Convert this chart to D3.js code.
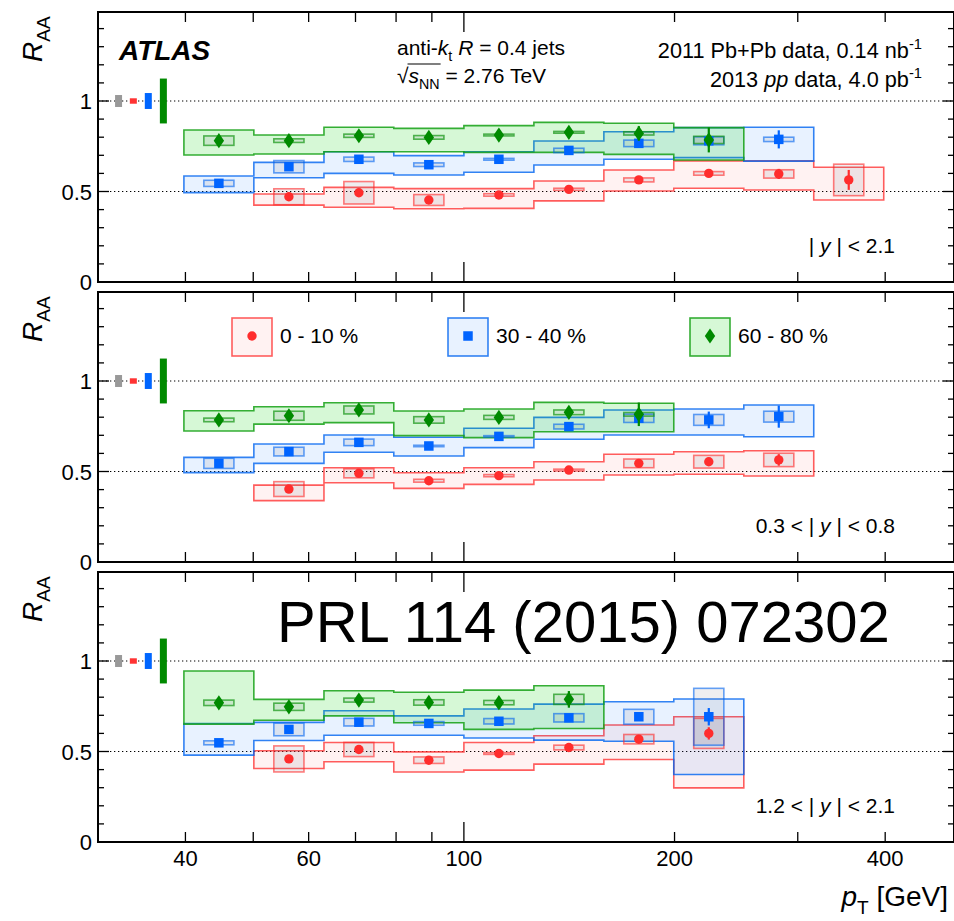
<!DOCTYPE html>
<html>
<head>
<meta charset="utf-8">
<script src="https://cdn.jsdelivr.net/npm/d3@7"></script>
<style>
  body { margin: 0; background: #fff; }
  svg { display: block; font-family: "Liberation Sans", Arial, Helvetica, sans-serif; }
</style>
</head>
<body>
<svg id="chart" width="954" height="921"></svg>
<script>
// ---- data ---------------------------------------------------------------
// jet pT bin edges [GeV]
const binEdges = [39.8, 50.1, 63.1, 79.4, 100, 125.9, 158.5, 199.5, 251.2, 316.2, 398.1];

const centralityLabels = ["0 - 10 %", "30 - 40 %", "60 - 80 %"];
const rapidityLabels = ["| y | < 2.1", "0.3 < | y | < 0.8", "1.2 < | y | < 2.1"];

const xTickLabels = [40, 60, 100, 200, 400];
const xMinorTicks = [50, 70, 80, 90, 300];
const xMajorTicks = [100];
const yTickLabels = [0, 0.5, 1];

// global normalisation uncertainties: pp luminosity, then T_AA per centrality
const globalPos = [32.1, 33.7, 35.4, 37.2];
const globalUnc = [0.033, 0.015, 0.044, 0.124];

// R_AA per bin: value, stat. error, uncorrelated sys. (half height),
// correlated sys. band upper / lower edge
const y21_c0010 = {
  val:  [null, 0.471, 0.493, 0.453, 0.481, 0.512, 0.564, 0.600, 0.597, 0.564],
  stat: [null, 0.006, 0.006, 0.006, 0.006, 0.008, 0.010, 0.015, 0.028, 0.055],
  unc:  [null, 0.044, 0.062, 0.030, 0.007, 0.006, 0.011, 0.010, 0.023, 0.087],
  hi:   [null, 0.486, 0.523, 0.516, 0.516, 0.558, 0.619, 0.669, 0.669, 0.634],
  lo:   [null, 0.425, 0.413, 0.405, 0.407, 0.448, 0.503, 0.518, 0.508, 0.453]
};
const y21_c3040 = {
  val:  [0.545, 0.637, 0.678, 0.648, 0.678, 0.727, 0.766, 0.780, 0.788],
  stat: [0.006, 0.008, 0.008, 0.008, 0.008, 0.010, 0.012, 0.035, 0.050],
  unc:  [0.017, 0.034, 0.012, 0.010, 0.005, 0.012, 0.018, 0.022, 0.012],
  hi:   [0.586, 0.661, 0.720, 0.698, 0.720, 0.779, 0.830, 0.853, 0.855],
  lo:   [0.494, 0.576, 0.600, 0.591, 0.606, 0.646, 0.678, 0.687, 0.668]
};
const y21_c6080 = {
  val:  [0.781, 0.781, 0.808, 0.799, 0.812, 0.827, 0.821, 0.785],
  stat: [0.008, 0.008, 0.008, 0.008, 0.010, 0.012, 0.040, 0.069],
  unc:  [0.026, 0.010, 0.009, 0.010, 0.005, 0.005, 0.009, 0.020],
  hi:   [0.840, 0.812, 0.855, 0.849, 0.864, 0.882, 0.877, 0.853],
  lo:   [0.702, 0.707, 0.720, 0.720, 0.716, 0.716, 0.705, 0.674]
};

const y0308_c0010 = {
  val:  [null, 0.403, 0.490, 0.449, 0.477, 0.508, 0.545, 0.554, 0.564],
  stat: [null, 0.006, 0.006, 0.006, 0.006, 0.007, 0.010, 0.015, 0.032],
  unc:  [null, 0.041, 0.025, 0.008, 0.006, 0.005, 0.024, 0.035, 0.037],
  hi:   [null, 0.425, 0.521, 0.493, 0.521, 0.554, 0.595, 0.609, 0.615],
  lo:   [null, 0.339, 0.438, 0.407, 0.429, 0.453, 0.481, 0.485, 0.475]
};
const y0308_c3040 = {
  val:  [0.545, 0.610, 0.661, 0.641, 0.694, 0.748, 0.794, 0.785, 0.803],
  stat: [0.006, 0.007, 0.008, 0.008, 0.008, 0.010, 0.020, 0.046, 0.061],
  unc:  [0.028, 0.024, 0.018, 0.004, 0.004, 0.013, 0.023, 0.030, 0.030],
  hi:   [0.578, 0.652, 0.702, 0.689, 0.739, 0.799, 0.840, 0.845, 0.867],
  lo:   [0.494, 0.545, 0.606, 0.586, 0.632, 0.678, 0.702, 0.702, 0.692]
};
const y0308_c6080 = {
  val:  [0.785, 0.808, 0.840, 0.785, 0.799, 0.827, 0.816],
  stat: [0.008, 0.010, 0.010, 0.010, 0.010, 0.015, 0.065],
  unc:  [0.010, 0.025, 0.022, 0.018, 0.011, 0.013, 0.010],
  hi:   [0.836, 0.858, 0.880, 0.834, 0.845, 0.882, 0.877],
  lo:   [0.724, 0.762, 0.770, 0.698, 0.687, 0.720, 0.720]
};

const y1221_c0010 = {
  val:  [null, 0.459, 0.511, 0.452, 0.489, 0.522, 0.568, 0.600],
  stat: [null, 0.006, 0.006, 0.006, 0.006, 0.008, 0.012, 0.034],
  unc:  [null, 0.072, 0.039, 0.018, 0.005, 0.013, 0.026, 0.083],
  hi:   [null, 0.504, 0.550, 0.498, 0.550, 0.587, 0.646, 0.692],
  lo:   [null, 0.406, 0.443, 0.387, 0.397, 0.430, 0.456, 0.299]
};
const y1221_c3040 = {
  val:  [0.548, 0.622, 0.662, 0.655, 0.667, 0.686, 0.692, 0.692],
  stat: [0.006, 0.008, 0.008, 0.008, 0.008, 0.010, 0.015, 0.048],
  unc:  [0.011, 0.035, 0.021, 0.010, 0.015, 0.023, 0.041, 0.157],
  hi:   [0.655, 0.661, 0.725, 0.697, 0.735, 0.762, 0.775, 0.790],
  lo:   [0.480, 0.561, 0.590, 0.590, 0.575, 0.563, 0.557, 0.373]
};
const y1221_c6080 = {
  val:  [0.769, 0.747, 0.784, 0.771, 0.770, 0.788],
  stat: [0.010, 0.010, 0.010, 0.010, 0.012, 0.046],
  unc:  [0.015, 0.020, 0.011, 0.015, 0.012, 0.028],
  hi:   [0.945, 0.788, 0.836, 0.827, 0.839, 0.863],
  lo:   [0.651, 0.673, 0.697, 0.659, 0.622, 0.627]
};

const panelSeries = [
  [y21_c0010, y21_c3040, y21_c6080],
  [y0308_c0010, y0308_c3040, y0308_c6080],
  [y1221_c0010, y1221_c3040, y1221_c6080]
];

// ---- styles -------------------------------------------------------------
const markerColor = ["#ff2d2d", "#0064ff", "#008a00"];
const bandStroke  = ["rgba(255,40,40,0.75)", "rgba(0,100,240,0.8)", "rgba(20,160,20,0.85)"];
const bandFill    = ["rgba(255,0,0,0.05)", "rgba(0,110,255,0.09)", "rgba(0,210,0,0.16)"];
const boxStroke   = ["rgba(255,40,40,0.6)", "rgba(0,100,240,0.6)", "rgba(20,150,20,0.7)"];
const globalColor = ["#999999", "#ff3333", "#0066ff", "#008a00"];

const left = 98, right = 954;
const panelBottoms = [282, 562, 842];
const panelH = 270;
const unitPx = 181;

const svg = d3.select("#chart");
const x = d3.scaleLog().domain([30, 500]).range([98, 953]);

function rich(sel, parts, base) {
  let shift = 0;
  parts.forEach(p => {
    const target = p.sub ? base * 0.3 : p.sup ? -base * 0.42 : 0;
    const ts = sel.append("tspan").attr("dy", target - shift).text(p.t);
    shift = target;
    if (p.i) ts.attr("font-style", "italic");
    if (p.sub || p.sup) ts.attr("font-size", base * 0.68);
  });
}

function drawMarker(g, idx, cx, cy, scale = 1) {
  if (idx === 0) {
    g.append("circle").attr("cx", cx).attr("cy", cy).attr("r", 4.7 * scale)
      .attr("fill", markerColor[0]);
  } else if (idx === 1) {
    const s = 9.5 * scale;
    g.append("rect").attr("x", cx - s / 2).attr("y", cy - s / 2)
      .attr("width", s).attr("height", s).attr("fill", markerColor[1]);
  } else {
    const w = 5.2 * scale, h = 7.6 * scale;
    g.append("path")
      .attr("d", `M${cx},${cy - h}L${cx + w},${cy}L${cx},${cy + h}L${cx - w},${cy}Z`)
      .attr("fill", markerColor[2]);
  }
}

panelSeries.forEach((seriesList, p) => {
  const bottom = panelBottoms[p];
  const y = d3.scaleLinear().domain([0, 1.5]).range([bottom, bottom - 1.5 * unitPx]);
  const top = bottom - panelH;
  const g = svg.append("g");

  // reference lines at 1 and 0.5
  [1, 0.5].forEach(v => {
    g.append("line").attr("x1", left).attr("x2", right)
      .attr("y1", y(v)).attr("y2", y(v))
      .attr("stroke", "#000").attr("stroke-width", 1.2)
      .attr("stroke-dasharray", "1.3,2.7");
  });

  // global uncertainty boxes at unity
  globalUnc.forEach((u, i) => {
    const cx = x(globalPos[i]);
    g.append("rect").attr("x", cx - 3.5).attr("width", 7)
      .attr("y", y(1 + u)).attr("height", y(1 - u) - y(1 + u))
      .attr("fill", globalColor[i]);
  });

  // correlated systematic bands (stepped outline)
  const line = d3.line();
  seriesList.forEach((s, c) => {
    const idx = s.val.map((v, i) => v == null ? -1 : i).filter(i => i >= 0);
    const pts = [];
    idx.forEach(i => {
      pts.push([x(binEdges[i]), y(s.hi[i])], [x(binEdges[i + 1]), y(s.hi[i])]);
    });
    idx.slice().reverse().forEach(i => {
      pts.push([x(binEdges[i + 1]), y(s.lo[i])], [x(binEdges[i]), y(s.lo[i])]);
    });
    g.append("path").attr("d", line(pts) + "Z")
      .attr("fill", bandFill[c]).attr("stroke", bandStroke[c])
      .attr("stroke-width", 1.6).attr("stroke-linejoin", "miter");
  });

  // uncorrelated systematic boxes
  seriesList.forEach((s, c) => {
    s.val.forEach((v, i) => {
      if (v == null) return;
      const x0 = x(binEdges[i]), x1 = x(binEdges[i + 1]);
      const xc = x(Math.sqrt(binEdges[i] * binEdges[i + 1]));
      const hw = 0.215 * (x1 - x0);
      g.append("rect").attr("x", xc - hw).attr("width", 2 * hw)
        .attr("y", y(v + s.unc[i])).attr("height", y(v - s.unc[i]) - y(v + s.unc[i]))
        .attr("fill", "rgba(90,90,110,0.1)")
        .attr("stroke", boxStroke[c]).attr("stroke-width", 1.6);
    });
  });

  // statistical errors and markers
  seriesList.forEach((s, c) => {
    s.val.forEach((v, i) => {
      if (v == null) return;
      const xc = x(Math.sqrt(binEdges[i] * binEdges[i + 1]));
      g.append("line").attr("x1", xc).attr("x2", xc)
        .attr("y1", y(v - s.stat[i])).attr("y2", y(v + s.stat[i]))
        .attr("stroke", markerColor[c]).attr("stroke-width", 2.2);
      drawMarker(g, c, xc, y(v));
    });
  });

  // frame
  g.append("rect").attr("x", left).attr("y", top).attr("width", right - left)
    .attr("height", panelH).attr("fill", "none").attr("stroke", "#000").attr("stroke-width", 2);

  // x ticks (bottom and top edges, pointing inwards)
  const xt = xTickLabels.concat(xMinorTicks);
  xt.forEach(t => {
    const len = xMajorTicks.includes(t) ? 20 : 10;
    [[bottom, -len], [top, len]].forEach(([yy, d]) => {
      g.append("line").attr("x1", x(t)).attr("x2", x(t))
        .attr("y1", yy).attr("y2", yy + d).attr("stroke", "#000").attr("stroke-width", 1.3);
    });
  });

  // y ticks (left and right edges)
  d3.range(0, 15).forEach(k => {
    const v = k / 10;
    const major = (k % 5 === 0);
    const len = major ? 11 : 6;
    g.append("line").attr("x1", left).attr("x2", left + len)
      .attr("y1", y(v)).attr("y2", y(v)).attr("stroke", "#000").attr("stroke-width", 1.3);
    g.append("line").attr("x1", right).attr("x2", right - len)
      .attr("y1", y(v)).attr("y2", y(v)).attr("stroke", "#000").attr("stroke-width", 1.3);
  });

  // y tick labels
  yTickLabels.forEach(v => {
    g.append("text").attr("x", 92).attr("y", y(v) + 8)
      .attr("text-anchor", "end").attr("font-size", 22).text(v);
  });

  // y axis title
  const yt = g.append("text")
    .attr("transform", `translate(42,${top + 50}) rotate(-90)`)
    .attr("font-size", 28);
  rich(yt, [{ t: "R", i: true }, { t: "AA", sub: true }], 28);

  // rapidity label
  const parts = rapidityLabels[p].split("y");
  const rl = g.append("text").attr("x", 895).attr("y", bottom - 29)
    .attr("text-anchor", "end").attr("font-size", 21);
  rl.append("tspan").text(parts[0]);
  rl.append("tspan").attr("font-style", "italic").text("y");
  rl.append("tspan").text(parts[1]);
});

// x tick labels and title
xTickLabels.forEach(t => {
  svg.append("text").attr("x", x(t)).attr("y", 866)
    .attr("text-anchor", "middle").attr("font-size", 22).text(t);
});
const xtitle = svg.append("text").attr("x", 948).attr("y", 906)
  .attr("text-anchor", "end").attr("font-size", 28);
rich(xtitle, [{ t: "p", i: true }, { t: "T", sub: true }, { t: " [GeV]" }], 28);

// ---- annotations on the top panel ------------------------------------------
svg.append("text").attr("x", 119).attr("y", 60)
  .attr("font-size", 28).attr("font-weight", "bold").attr("font-style", "italic").text("ATLAS");

const jetTxt = svg.append("text").attr("x", 397).attr("y", 55).attr("font-size", 21);
rich(jetTxt, [{ t: "anti-" }, { t: "k", i: true }, { t: "t", sub: true },
              { t: " " }, { t: "R", i: true }, { t: " = 0.4 jets" }], 21);

const sTxt = svg.append("text").attr("x", 397).attr("y", 83).attr("font-size", 21);
rich(sTxt, [{ t: "\u221A" }, { t: "s", i: true }, { t: "NN", sub: true }, { t: " = 2.76 TeV" }], 21);
{
  const n = sTxt.node();
  const xs = n.getStartPositionOfChar(1).x;
  const xe = n.getEndPositionOfChar(3).x;
  svg.append("line").attr("x1", xs - 1).attr("x2", xe + 1)
    .attr("y1", 83 - 19).attr("y2", 83 - 19).attr("stroke", "#000").attr("stroke-width", 1.2);
}

const pbTxt = svg.append("text").attr("x", 922).attr("y", 58)
  .attr("text-anchor", "end").attr("font-size", 21.7);
rich(pbTxt, [{ t: "2011 Pb+Pb data, 0.14 nb" }, { t: "-1", sup: true }], 21.7);
const ppTxt = svg.append("text").attr("x", 922).attr("y", 87)
  .attr("text-anchor", "end").attr("font-size", 21.7);
rich(ppTxt, [{ t: "2013 " }, { t: "pp", i: true }, { t: " data, 4.0 pb" }, { t: "-1", sup: true }], 21.7);

// ---- legend in the middle panel --------------------------------------------
const legendX = [232, 448, 690];
centralityLabels.forEach((lab, c) => {
  const lx = legendX[c], ly = 318;
  svg.append("rect").attr("x", lx).attr("y", ly).attr("width", 40).attr("height", 38)
    .attr("fill", bandFill[c]).attr("stroke", bandStroke[c]).attr("stroke-width", 1.6);
  drawMarker(svg, c, lx + 20, ly + 18);
  svg.append("text").attr("x", lx + 48).attr("y", 343).attr("font-size", 21).text(lab);
});

// ---- journal reference -----------------------------------------------------
svg.append("text").attr("x", 277).attr("y", 642).attr("font-size", 58)
  .attr("font-weight", 300).text("PRL 114 (2015) 072302");
</script>
</body>
</html>
